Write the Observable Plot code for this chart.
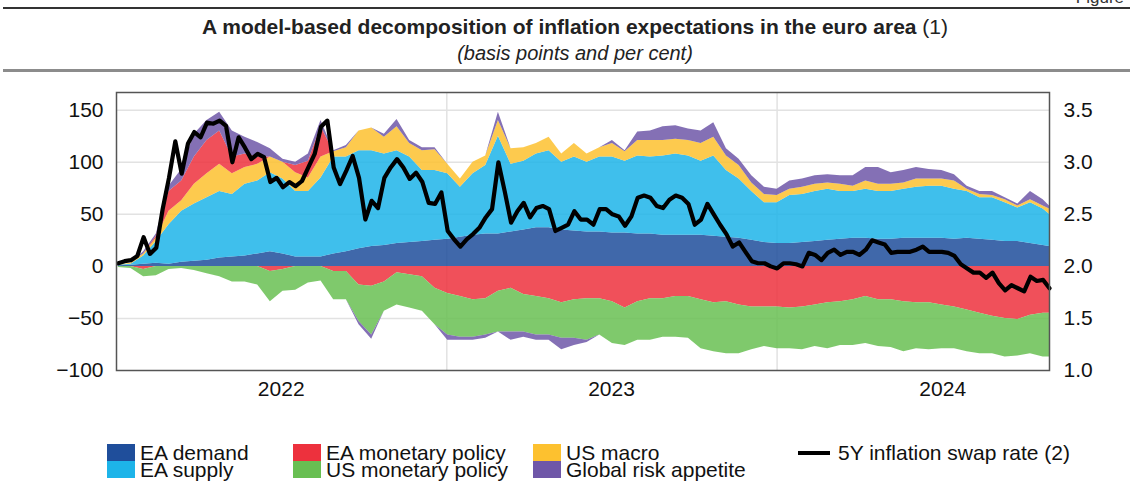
<!DOCTYPE html>
<html><head><meta charset="utf-8">
<script src="https://cdn.jsdelivr.net/npm/d3@7"></script>
<script src="https://cdn.jsdelivr.net/npm/@observablehq/plot@0.6"></script>
<style>
body{margin:0;width:1130px;height:483px;overflow:hidden;background:#fff;font-family:"Liberation Sans",Arial,sans-serif;color:#111;position:relative}
#fig{position:absolute;right:6px;top:-12px;font-size:17px;color:#333}
#rule1{position:absolute;left:3px;right:0;top:7px;height:2px;background:#333}
#title{position:absolute;left:0;width:1150px;top:15px;text-align:center;font-size:21px;line-height:24px;color:#222}
#sub{position:absolute;left:0;width:1150px;top:41px;text-align:center;font-size:20px;line-height:24px;font-style:italic;color:#222}
#rule2{position:absolute;left:3px;right:0;top:69px;height:3px;background:#8c8c8c}
#chart{position:absolute;left:0;top:80px}
.lg{position:absolute;font-size:21px;line-height:17px;height:17px;white-space:nowrap;color:#111}
.sw{position:absolute;width:28px;height:17px}
.ln{position:absolute;width:32px;height:4px;background:#000}
</style></head><body>
<div id="fig">Figure</div>
<div id="rule1"></div>
<div id="title"><b>A model-based decomposition of inflation expectations in the euro area</b> (1)</div>
<div id="sub">(basis points and per cent)</div>
<div id="rule2"></div>
<div id="chart"></div>
<div id="legend"></div>
<script>
// ---- data (basis points, biweekly samples from 2022-01-03) ----
const seriesNames = ["EA demand","EA supply","EA monetary policy","US monetary policy","US macro","Global risk appetite"];
const eaDemand = [0.5,1,2,3,2,4,5,6,8,9, 10,12,14,12,9,9,9,12,14,17, 19,20,22,23,24,25,26,28,30,31, 31,33,35,37,37,35,34,33,33,32, 32,31,31,30,30,30,30,29,28,27, 25,23,22,22,23,24,25,26,27,27, 26,26,27,27,27,27,26,27,26,25, 24,24,22,20,19];
const eaSupply = [0.5,1,8,21,38,49,55,60,64,60, 69,70,76,72,63,63,76,93,91,94, 92,88,89,82,68,67,63,48,59,66, 94,65,66,71,74,65,71,67,72,73, 69,75,74,76,78,76,71,77,64,57, 47,38,39,46,46,48,49,46,45,47, 46,46,47,49,50,50,48,45,40,41, 37,32,39,35,31];
const usMacro = [0,1,2,3,13,10,19,23,26,20, 16,16,15,16,18,13,20,5,9,19, 22,16,23,13,19,20,9,8,11,9, 15,15,13,10,13,8,13,8,9,13, 9,15,16,15,14,15,17,18,14,13, 8,8,7,6,7,7,6,7,5,8, 7,7,6,8,7,7,8,2,3,2, 3,2,3,3,5];
const eaMonPol = [0,0,-3,2,19,19,26,32,32,16, 13,7,-5,-3,7,16,29,-5,-5,-18, -19,-15,-6,-8,-10,-21,-26,-29,-32,-31, -24,-21,-27,-29,-31,-35,-32,-31,-31,-34, -40,-34,-31,-31,-29,-29,-32,-35,-34,-37, -39,-39,-39,-40,-39,-37,-35,-34,-32,-29, -32,-32,-34,-35,-35,-37,-39,-42,-45,-48, -50,-51,-47,-45,-45];
const usMonPol = [-1,-2,-7,-9,-3,-2,-4,-7,-10,-15, -15,-18,-29,-21,-23,-16,-14,-27,-27,-35, -47,-28,-31,-32,-33,-35,-40,-39,-36,-35, -39,-42,-36,-37,-35,-34,-37,-40,-35,-40, -36,-37,-40,-37,-39,-40,-47,-47,-50,-47, -41,-38,-40,-39,-41,-40,-44,-42,-44,-45, -45,-46,-48,-44,-45,-42,-40,-40,-39,-36, -37,-35,-37,-42,-42];
const globalRisk = [0,0,2,2,5,11,22,19,18,25, 16,14,8,3,3,7,6,1,2,-3, -4,3,7,3,3,2,-5,-3,-3,-3, 8,-8,-5,-5,-5,-11,-7,-2,0,3, 1,8,9,13,13,11,12,14,7,6, 7,7,6,8,8,8,8,8,10,13, 16,11,12,11,9,8,6,3,3,4, 2,2,8,6,3];
// 5Y inflation swap rate (per cent, weekly from 2022-01-03)
const swapRate = [2.03,2.05,2.06,2.10,2.28,2.12,2.18,2.55,2.85,3.20,
2.89,3.18,3.29,3.24,3.38,3.37,3.40,3.35,3.00,3.24,
3.14,3.03,3.08,3.05,2.81,2.85,2.76,2.81,2.77,2.82,
2.95,3.08,3.34,3.40,2.95,2.79,2.92,3.06,2.85,2.45,
2.63,2.56,2.85,2.95,3.03,2.95,2.84,2.90,2.81,2.61,
2.60,2.71,2.34,2.26,2.19,2.26,2.31,2.37,2.47,2.55,
3.00,2.72,2.42,2.53,2.61,2.47,2.56,2.58,2.55,2.34,
2.37,2.40,2.53,2.45,2.45,2.40,2.55,2.55,2.50,2.48,
2.39,2.48,2.66,2.68,2.66,2.58,2.56,2.64,2.68,2.66,
2.60,2.40,2.45,2.60,2.50,2.40,2.31,2.19,2.23,2.14,
2.05,2.03,2.03,2.00,1.98,2.03,2.03,2.02,2.00,2.13,
2.11,2.06,2.13,2.16,2.11,2.14,2.14,2.11,2.16,2.25,
2.23,2.21,2.13,2.14,2.14,2.14,2.16,2.19,2.14,2.14,
2.14,2.13,2.10,2.02,1.98,1.94,1.94,1.89,1.94,1.84,
1.77,1.82,1.79,1.76,1.90,1.86,1.87,1.79];
const yearLabels = ["2022","2023","2024"];
const leftTicks = [-100,-50,0,50,100,150];
const rightTickLabels = ["1.0","1.5","2.0","2.5","3.0","3.5"];
const lineName = "5Y inflation swap rate (2)";

const legendColors = ["#1f4e9b","#1db4e9","#ed313d","#68bf52","#fdc12f","#6f57a8"];
const stackOrder = ["EA demand","EA supply","US macro","EA monetary policy","US monetary policy","Global risk appetite"];

const start = new Date(Date.UTC(2022,0,3));
const endDate = new Date(Date.UTC(2024,9,28));
const areaDates = eaDemand.map((_, i) => i < eaDemand.length - 1 ? d3.utcDay.offset(start, 14 * i) : endDate);
const weekDates = swapRate.map((_, i) => d3.utcDay.offset(start, 7 * i));

const compVals = {"EA demand": eaDemand, "EA supply": eaSupply, "EA monetary policy": eaMonPol,
  "US monetary policy": usMonPol, "US macro": usMacro, "Global risk appetite": globalRisk};

// stack positive parts upward and negative parts downward, each part its own band
const bands = [];
areaDates.forEach((date, i) => {
  let pos = 0, neg = 0;
  stackOrder.forEach(name => {
    const vals = compVals[name];
    const v = vals[i];
    const near = (f) => [i - 1, i, i + 1].some(j => j >= 0 && j < vals.length && f(vals[j]));
    const p = Math.max(v, 0), n = Math.min(v, 0);
    const keepP = near(x => x > 0), keepN = near(x => x < 0);
    bands.push({date, key: name + "+", series: name, y1: keepP ? pos : NaN, y2: keepP ? pos + p : NaN});
    pos += p;
    bands.push({date, key: name + "-", series: name, y1: keepN ? neg : NaN, y2: keepN ? neg + n : NaN});
    neg += n;
  });
});
const lineRows = swapRate.map((r, i) => ({date: weekDates[i], bp: (r - 2) * 100}));

const yearMid = yearLabels.map(y => new Date(Date.UTC(+y, 6, 2)));
const yearStarts = [new Date(Date.UTC(2023,0,1)), new Date(Date.UTC(2024,0,1))];

const chart = Plot.plot({
  width: 1130, height: 330,
  marginLeft: 116, marginRight: 81, marginTop: 12, marginBottom: 40,
  style: {fontFamily: "'Liberation Sans', Arial, sans-serif", fontSize: "21px", color: "#111", background: "transparent"},
  x: {type: "utc", domain: [new Date(Date.UTC(2022,0,1)), endDate]},
  y: {domain: [-100, 167]},
  color: {domain: seriesNames, range: legendColors},
  marks: [
    Plot.ruleY([-50, 50, 100, 150], {stroke: "#e2e2e2", strokeWidth: 1.5}),
    Plot.ruleX(yearStarts, {stroke: "#e2e2e2", strokeWidth: 1.5}),
    Plot.areaY(bands, {x: "date", y1: "y1", y2: "y2", z: "key", fill: "series", fillOpacity: 0.85}),
    Plot.lineY(lineRows, {x: "date", y: "bp", stroke: "#000", strokeWidth: 4.2}),
    Plot.frame({stroke: "#555", strokeWidth: 1.5}),
    Plot.axisY({ticks: leftTicks, tickSize: 0, tickPadding: 13, label: null}),
    Plot.axisY({anchor: "right", ticks: leftTicks, tickFormat: (d, i) => rightTickLabels[i], tickSize: 0, tickPadding: 14, label: null}),
    Plot.axisX({ticks: yearMid, tickFormat: (d, i) => yearLabels[i], tickSize: 0, tickPadding: 11, label: null})
  ]
});
document.getElementById("chart").appendChild(chart);

// legend
const lg = document.getElementById("legend");
const pos = [[107,444],[107,461],[293,444],[293,461],[533,444],[533,461]];
seriesNames.forEach((n, i) => {
  const sw = document.createElement("div");
  sw.className = "sw"; sw.style.left = pos[i][0] + "px"; sw.style.top = pos[i][1] + "px"; sw.style.background = legendColors[i];
  lg.appendChild(sw);
  const t = document.createElement("div");
  t.className = "lg"; t.textContent = n; t.style.left = (pos[i][0] + 33) + "px"; t.style.top = (pos[i][1]) + "px";
  lg.appendChild(t);
});
const ln = document.createElement("div"); ln.className = "ln"; ln.style.left = "798px"; ln.style.top = "451px"; lg.appendChild(ln);
const lt = document.createElement("div"); lt.className = "lg"; lt.textContent = lineName; lt.style.left = "838px"; lt.style.top = "444px"; lg.appendChild(lt);
</script>
</body></html>
